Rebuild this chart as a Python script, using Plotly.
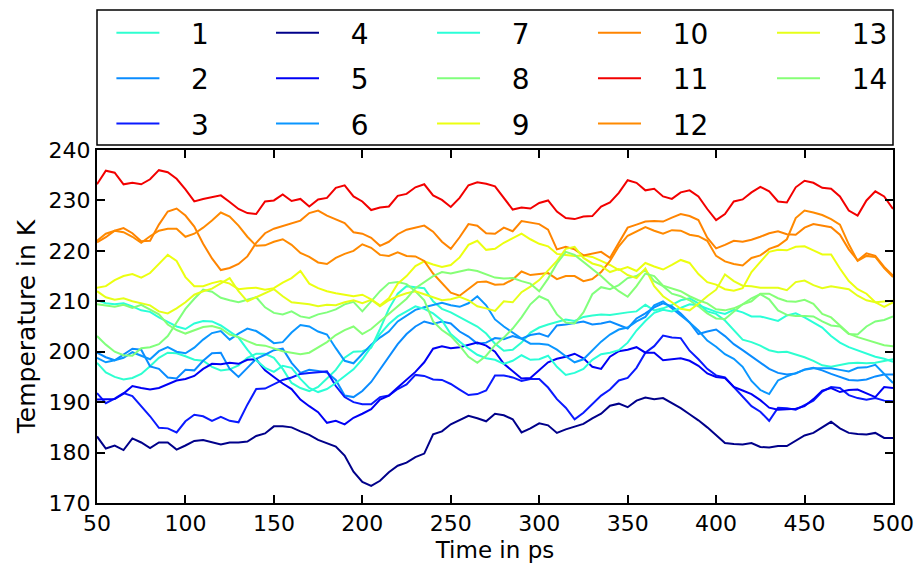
import plotly.graph_objects as go

# Time axis (ps), sampled every 5 ps
time_ps = list(range(50, 501, 5))

# Temperature traces (K) for the 14 replicas
temp_01 = [197.8, 195.9, 195.0, 194.5, 194.8, 195.6, 197.1, 198.8, 199.8, 199.7,
           199.1, 198.4, 198.2, 197.0, 196.3, 196.5, 197.3, 198.8, 199.6, 199.6,
           198.8, 196.6, 193.8, 192.8, 192.2, 193.0, 194.7, 196.4, 198.8, 200.0,
           200.1, 200.8, 204.5, 208.5, 211.5, 213.0, 212.8, 212.6, 210.0, 208.5,
           207.8, 206.8, 205.9, 205.0, 203.6, 201.6, 200.2, 200.4, 201.8, 203.8,
           204.8, 205.4, 205.9, 206.4, 206.1, 206.9, 207.2, 207.4, 207.3, 207.6,
           207.8, 208.0, 209.3, 208.2, 208.6, 209.3, 210.2, 210.6, 209.6, 208.0,
           207.5, 206.2, 204.4, 202.4, 201.9, 201.2, 200.3, 199.9, 200.0, 199.5,
           198.9, 198.2, 197.3, 197.0, 197.4, 197.7, 197.8, 197.7, 197.8, 198.1,
           198.5]

temp_02 = [199.8, 198.9, 198.3, 199.5, 200.6, 200.4, 197.1, 196.6, 194.9, 194.7,
           196.4, 196.3, 198.2, 199.7, 199.8, 196.6, 195.0, 196.8, 198.6, 199.4,
           200.3, 200.6, 197.8, 195.8, 196.4, 196.2, 195.9, 194.4, 191.3, 191.0,
           192.2, 194.0, 196.5, 199.0, 201.5, 203.5, 205.0, 206.0, 205.5, 206.0,
           205.6, 204.0, 203.0, 201.6, 201.8, 202.7, 202.5, 203.1, 202.6, 203.3,
           203.6, 203.0, 205.2, 205.4, 205.7, 206.0, 205.4, 205.6, 206.0, 205.3,
           204.6, 206.6, 207.6, 208.8, 209.6, 209.0, 207.6, 205.8, 203.5, 204.0,
           204.4, 203.1, 201.5, 200.3, 199.1, 197.9, 196.6, 195.8, 195.5, 195.7,
           196.5, 196.8, 196.3, 195.6, 195.0, 194.4, 194.3, 194.5, 195.1, 195.5,
           195.5]

temp_03 = [191.8, 189.8, 190.7, 191.8, 191.2, 189.3, 187.2, 184.9, 184.8, 184.0,
           186.2, 187.5, 187.2, 186.3, 187.1, 186.3, 186.0, 189.5, 192.6, 192.7,
           193.6, 194.4, 194.9, 195.6, 195.8, 195.9, 196.1, 193.2, 191.0, 190.0,
           189.6, 189.6, 191.0, 191.3, 192.6, 193.5, 195.4, 195.2, 194.5, 194.4,
           193.6, 192.5, 191.4, 191.6, 192.3, 195.3, 195.3, 194.9, 194.2, 194.6,
           194.6, 192.9, 190.6, 188.9, 186.6, 187.9, 189.7, 191.3, 192.5, 194.3,
           194.8, 196.8, 199.8, 201.1, 203.2, 202.8, 202.7, 200.2, 198.5, 196.6,
           195.3, 194.9, 193.0, 191.0, 189.2, 188.1, 186.3, 188.9, 188.8, 188.5,
           189.4, 190.3, 192.1, 193.0, 192.8, 191.4, 190.8, 190.5, 190.8, 190.3,
           190.2]

temp_04 = [183.2, 180.8, 181.4, 180.5, 182.8, 182.0, 180.9, 182.0, 182.0, 180.6,
           181.4, 182.3, 182.5, 182.0, 181.6, 182.0, 182.0, 182.2, 183.3, 183.8,
           185.2, 185.2, 185.0, 184.2, 183.5, 182.5, 181.9, 181.2, 179.4, 176.2,
           174.2, 173.4, 174.4, 176.1, 177.4, 178.0, 179.1, 179.8, 183.6, 184.2,
           185.6, 186.5, 187.3, 186.8, 186.2, 187.7, 187.4, 186.6, 184.0, 184.8,
           185.8, 185.4, 183.9, 184.6, 185.1, 185.7, 186.8, 187.7, 189.3, 189.7,
           189.0, 190.3, 190.9, 190.6, 190.8, 189.8, 188.8, 187.6, 186.4, 185.0,
           183.4, 181.9, 181.7, 181.6, 181.9, 181.1, 181.0, 181.3, 181.3, 182.3,
           183.4, 183.9, 185.0, 186.1, 184.8, 183.9, 183.7, 183.6, 183.9, 182.9,
           182.9]

temp_05 = [190.5, 190.5, 190.6, 191.7, 193.2, 192.8, 192.5, 192.8, 193.6, 194.3,
           194.6, 195.2, 196.6, 197.6, 197.5, 197.8, 197.6, 198.4, 198.5, 196.3,
           195.0, 193.7, 192.6, 190.5, 189.2, 188.0, 185.9, 186.3, 185.6, 186.9,
           187.7, 188.6, 190.5, 191.3, 192.9, 194.4, 196.0, 197.9, 200.6, 201.1,
           200.7, 200.9, 201.3, 201.8, 201.2, 200.0, 197.6, 196.1, 194.7, 194.8,
           196.4, 197.9, 198.6, 199.0, 199.6, 198.7, 197.0, 196.6, 199.0, 200.1,
           200.4, 200.9, 199.8, 199.8, 198.3, 198.5, 198.7, 198.2, 197.2, 195.7,
           195.0, 194.8, 193.0, 192.3, 191.6, 190.4, 188.9, 188.5, 188.6, 188.7,
           189.2, 190.6, 192.3, 192.8, 192.0, 192.4, 192.5, 191.8, 191.0, 193.0,
           192.8]

temp_06 = [198.8, 197.9, 198.3, 198.8, 199.9, 199.2, 198.5, 200.1, 200.9, 200.0,
           199.7, 200.8, 202.4, 203.7, 204.1, 202.4, 203.6, 204.6, 204.1, 203.0,
           201.7, 201.9, 203.8, 205.3, 205.0, 204.0, 203.4, 200.7, 198.2, 197.7,
           199.5, 201.4, 202.8, 204.0, 206.0, 207.2, 208.3, 208.8, 209.3, 209.7,
           209.2, 208.9, 209.6, 211.0, 209.2, 206.4, 205.0, 203.8, 202.6, 201.6,
           201.6, 201.4, 200.4, 199.1, 197.9, 198.5, 200.2, 202.0, 203.4, 204.4,
           204.8, 206.0, 206.9, 209.2, 210.0, 208.6, 207.3, 205.8, 204.2, 202.2,
           201.0, 199.5, 198.6, 197.0, 194.2, 192.4, 191.6, 194.3, 195.1, 195.7,
           196.4, 196.7, 196.7, 196.7, 196.4, 196.1, 196.8, 196.9, 197.4, 195.5,
           193.8]

temp_07 = [210.2, 209.6, 209.4, 209.6, 209.0, 208.2, 207.9, 206.8, 205.9, 205.0,
           204.5, 205.6, 206.1, 206.0, 205.2, 204.0, 202.8, 200.4, 198.3, 196.8,
           196.0, 197.2, 196.8, 194.6, 192.8, 192.0, 192.6, 193.8, 195.2, 196.5,
           198.5, 201.0, 203.5, 205.5, 207.0, 208.0, 209.0, 208.5, 207.6, 206.2,
           203.5, 202.0, 200.6, 199.4, 198.7, 198.4, 197.6, 198.2, 199.3, 198.4,
           198.5, 199.2, 197.0, 195.4, 195.8, 196.6, 198.4, 199.5, 199.8, 200.3,
           201.8, 204.2, 206.1, 207.7, 208.3, 208.0, 208.7, 209.4, 209.2, 208.5,
           207.9, 207.5, 208.3, 207.8, 207.0, 207.0, 206.6, 206.1, 207.2, 207.6,
           206.8, 205.8, 204.8, 203.1, 201.8, 200.9, 200.3, 199.6, 199.0, 198.6,
           198.0]

temp_08 = [203.1, 201.4, 200.0, 199.3, 199.2, 200.7, 200.9, 201.5, 203.1, 205.8,
           208.5, 210.5, 212.3, 211.9, 210.7, 210.2, 209.8, 210.3, 210.8, 208.8,
           207.7, 207.4, 208.0, 207.0, 206.7, 207.4, 207.8, 208.4, 209.4, 209.9,
           208.0, 210.0, 212.0, 213.6, 213.8, 213.4, 212.0, 210.2, 206.0, 204.3,
           203.1, 201.2, 199.0, 197.8, 199.2, 201.3, 202.8, 204.6, 206.8, 209.4,
           211.0, 210.2, 207.4, 205.8, 205.6, 207.8, 211.4, 212.8, 212.4, 213.2,
           214.6, 215.0, 216.2, 214.0, 213.0, 211.5, 211.0, 210.2, 209.0, 207.6,
           206.6, 206.5, 207.9, 209.4, 210.6, 211.4, 210.4, 208.2, 207.3, 207.1,
           207.1, 207.0, 206.0, 205.2, 205.0, 203.5, 203.4, 205.0, 206.0, 206.3,
           207.0]

temp_09 = [212.7, 213.0, 214.2, 215.0, 215.4, 214.7, 215.6, 217.3, 219.2, 218.0,
           214.8, 213.0, 213.0, 213.6, 214.0, 213.5, 212.4, 212.6, 212.7, 212.3,
           212.6, 213.7, 214.6, 216.0, 213.5, 212.6, 212.0, 211.6, 211.3, 211.0,
           211.3, 210.4, 209.2, 210.6, 213.5, 215.0, 217.0, 217.9, 217.3, 216.8,
           217.2, 218.7, 221.2, 222.0, 220.2, 220.4, 221.6, 222.5, 223.4, 222.3,
           221.4, 220.9, 219.4, 219.2, 219.0, 219.1, 218.8, 218.0, 217.2, 216.2,
           216.8, 216.0, 217.6, 216.9, 216.3, 217.2, 218.2, 217.6, 215.4, 213.8,
           213.3, 212.4, 212.1, 212.6, 215.8, 217.8, 219.8, 220.2, 220.1, 220.8,
           220.9, 220.1, 219.3, 219.3, 216.5, 214.0, 212.4, 211.5, 209.8, 208.9,
           209.8]

temp_10 = [221.7, 222.7, 224.0, 224.5, 223.5, 221.9, 222.0, 225.2, 227.8, 228.4,
           227.0, 224.8, 221.4, 218.5, 216.2, 216.6, 217.4, 218.9, 221.6, 223.5,
           224.4, 224.9, 225.4, 226.0, 227.5, 228.0, 227.0, 226.2, 225.5, 223.7,
           223.4, 222.6, 221.0, 221.8, 223.3, 224.2, 224.6, 225.0, 223.8, 221.8,
           220.4, 222.7, 225.3, 225.0, 223.5, 223.4, 224.6, 223.9, 225.9, 225.6,
           225.3, 224.2, 220.3, 220.8, 220.3, 219.1, 219.4, 219.8, 218.6, 221.5,
           224.6, 225.2, 225.8, 225.9, 225.8, 226.6, 227.3, 226.9, 226.1, 222.6,
           220.5, 221.2, 222.0, 221.8, 222.2, 222.8, 223.5, 223.9, 223.3, 223.2,
           224.6, 225.3, 225.0, 224.7, 223.2, 220.3, 218.1, 219.5, 219.0, 216.8,
           215.1]

temp_11 = [233.2, 235.9, 235.5, 233.2, 233.5, 233.2, 234.2, 236.0, 235.6, 234.3,
           232.2, 229.8, 230.3, 230.6, 231.0, 229.7, 228.3, 227.5, 227.3, 229.8,
           230.0, 231.2, 229.9, 230.3, 228.8, 230.2, 230.5, 232.5, 233.0, 230.8,
           229.8, 228.1, 228.6, 228.8, 230.9, 231.3, 232.6, 233.2, 231.0, 230.1,
           228.7, 230.5, 233.0, 233.6, 233.3, 232.8, 230.5, 228.2, 228.6, 228.4,
           229.5, 230.0, 227.8, 226.5, 226.3, 226.8, 226.9, 228.8, 229.6, 231.5,
           234.0, 233.5, 232.0, 232.3, 230.8, 230.3, 231.6, 232.0, 230.8, 228.3,
           226.1, 227.3, 229.8, 230.2, 231.6, 232.7, 231.8, 229.8, 229.6, 232.6,
           233.9, 233.5, 232.5, 232.3, 230.8, 228.0, 227.0, 230.0, 231.8, 230.8,
           228.3]

temp_12 = [222.0, 223.4, 224.0, 223.7, 222.8, 221.6, 222.9, 224.0, 224.4, 224.4,
           222.8, 223.4, 224.6, 226.0, 227.6, 226.8, 225.0, 222.8, 221.0, 221.1,
           221.8, 222.3, 221.2, 219.6, 218.8, 217.7, 217.4, 218.6, 219.4, 220.0,
           221.3, 220.6, 219.2, 219.0, 219.7, 219.0, 218.9, 218.0, 215.5, 213.6,
           211.7, 211.1, 212.5, 213.8, 213.9, 213.3, 213.4, 214.3, 215.9, 215.2,
           215.4, 215.6, 214.4, 215.0, 215.0, 214.0, 214.4, 215.8, 218.0, 220.9,
           223.0, 223.9, 224.7, 224.0, 223.4, 224.1, 224.0, 223.2, 222.9, 222.0,
           219.0, 217.9, 217.4, 217.1, 218.6, 219.1, 220.4, 221.0, 222.3, 226.5,
           228.0, 227.6, 227.1, 226.3, 225.2, 221.3, 218.0, 219.0, 218.8, 216.6,
           214.8]

temp_13 = [212.0, 210.8, 210.3, 210.6, 210.0, 209.6, 209.2, 208.0, 207.6, 208.6,
           209.8, 211.3, 212.0, 212.5, 213.5, 214.6, 212.0, 210.0, 210.8, 211.6,
           212.4, 211.0, 209.8, 209.6, 209.4, 209.0, 209.3, 209.2, 209.8, 210.2,
           209.6, 210.3, 209.0, 210.2, 211.0, 211.6, 212.0, 211.4, 210.8, 210.2,
           210.4, 210.9, 210.2, 209.0, 208.6, 208.1, 210.0, 209.8, 211.8, 212.9,
           214.2, 216.0, 218.0, 220.4, 220.8, 218.6, 217.5, 217.0, 215.8, 216.4,
           215.2, 214.6, 216.5, 213.0, 211.0, 209.8, 208.5, 208.2, 209.5, 211.0,
           212.3, 215.3, 214.0, 213.1, 213.0, 212.7, 212.7, 212.7, 212.2, 213.8,
           214.1, 213.2, 212.6, 213.0, 212.7, 212.4, 211.1, 210.2, 209.8, 210.0,
           210.1]

temp_14 = [209.4, 209.2, 208.9, 209.3, 208.7, 209.3, 208.4, 207.4, 205.4, 204.3,
           203.6, 204.2, 204.9, 205.1, 204.6, 203.4, 202.9, 202.1, 201.4, 201.2,
           200.7, 200.1, 199.8, 199.5, 199.8, 200.8, 201.9, 203.3, 204.3, 205.0,
           203.5, 204.5, 206.0, 207.5, 209.0, 210.5, 212.6, 213.8, 215.0, 215.8,
           215.5, 215.9, 216.3, 216.0, 215.4, 214.7, 214.5, 214.6, 214.0, 213.5,
           212.0, 214.5, 217.5, 219.8, 219.2, 217.8, 216.4, 215.0, 213.4, 212.0,
           210.9, 213.0, 215.5, 215.0, 213.1, 212.5, 212.0, 211.0, 210.2, 209.6,
           208.4, 208.2, 208.6, 209.4, 210.0, 211.5, 211.5, 210.6, 210.0, 209.9,
           210.3, 209.5, 207.5, 206.8, 205.2, 203.6, 202.9, 202.4, 201.9, 201.3,
           201.1]

series_names = ["1", "2", "3", "4", "5", "6", "7",
                "8", "9", "10", "11", "12", "13", "14"]
series_temps = [temp_01, temp_02, temp_03, temp_04, temp_05, temp_06, temp_07,
                temp_08, temp_09, temp_10, temp_11, temp_12, temp_13, temp_14]
# jet-style colours, coolest replica navy, hottest red
series_colors = ["#2effd0", "#0a8cff", "#0a1aff", "#00008a", "#0000f5", "#0a96ff", "#2affd8",
                 "#80ff7c", "#ecff10", "#ff8400", "#f20000", "#ff8a00", "#e6ff18", "#86ff76"]

FONT = "DejaVu Sans"
PAD = "\u00a0\u00a0\u00a0"  # gap between legend sample line and label

# five legend columns, three entries each (column-major order)
legend_keys = ["legend", "legend2", "legend3", "legend4", "legend5"]
legend_x = [0.0181, 0.2186, 0.4209, 0.6231, 0.8480]

fig = go.Figure()
for i, (name, temps, color) in enumerate(zip(series_names, series_temps, series_colors)):
    fig.add_trace(go.Scatter(
        x=time_ps, y=temps, mode="lines", name=PAD + name,
        line=dict(color=color, width=2),
        legend=legend_keys[i // 3], legendgroup=name,
    ))

axis_common = dict(
    showline=True, linecolor="black", linewidth=2, mirror="allticks",
    ticks="inside", ticklen=8, tickwidth=1.5, tickcolor="black",
    showgrid=False, zeroline=False, automargin=False,
    tickfont=dict(family=FONT, size=22, color="black"),
)

layout = dict(
    width=918, height=563,
    margin=dict(l=97, r=25, t=150, b=60, autoexpand=False),
    paper_bgcolor="white", plot_bgcolor="white",
    font=dict(family=FONT, color="black"),
    xaxis=dict(range=[50, 500], tickmode="array", tickvals=list(range(50, 501, 50)),
               title=dict(text="Time in ps", font=dict(family=FONT, size=23), standoff=10),
               **axis_common),
    yaxis=dict(range=[170, 240], tickmode="array", tickvals=list(range(170, 241, 10)),
               title=dict(text="Temperature in K", font=dict(family=FONT, size=25), standoff=6),
               **axis_common),
    shapes=[dict(type="rect", xref="paper", yref="paper", x0=0, x1=1, y0=1.0142, y1=1.3966,
                 line=dict(color="black", width=1.5), fillcolor="rgba(0,0,0,0)", layer="above")],
)
for key, lx in zip(legend_keys, legend_x):
    layout[key] = dict(
        x=lx, y=1.402, xanchor="left", yanchor="top", orientation="v",
        bgcolor="rgba(0,0,0,0)", borderwidth=0, itemwidth=43,
        traceorder="grouped", tracegroupgap=6,
        font=dict(family=FONT, size=28, color="black"),
    )
fig.update_layout(**layout)

fig.write_html("out.html")
